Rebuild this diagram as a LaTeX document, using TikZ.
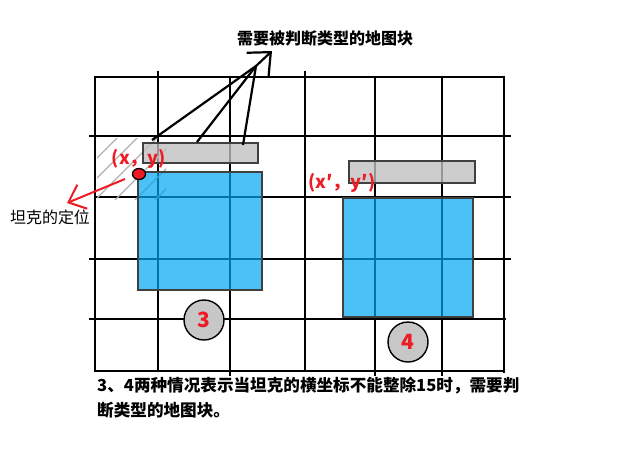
\documentclass[tikz,border=0pt]{standalone}
\usepackage{fontspec}
\usetikzlibrary{arrows.meta,shapes.geometric}
\newfontfamily\cjk{Noto Sans CJK SC}
\definecolor{tankblue}{RGB}{0,166,241}
\definecolor{markred}{RGB}{237,28,36}
\definecolor{edgegray}{RGB}{64,64,64}
\definecolor{hatchgray}{RGB}{176,176,176}

\begin{document}
\begin{tikzpicture}[x=1pt,y=-1pt,
  gridline/.style={line width=2.8pt, line cap=rect},
  hatchline/.style={hatchgray, line width=1.4pt},
  tilebar/.style={rectangle, draw=edgegray, line width=1.6pt, fill=black!25, fill opacity=0.78, inner sep=0pt},
  tankbox/.style={rectangle, draw=edgegray, line width=1.6pt, fill=tankblue, fill opacity=0.7, inner sep=0pt},
  casemark/.style={circle, draw, line width=1.4pt, fill=black!22, minimum size=40pt, inner sep=0pt,
    text=markred, font=\cjk\bfseries\fontsize{21}{21}\selectfont},
  redlabel/.style={text=markred, font=\cjk\bfseries\fontsize{18}{18}\selectfont, inner sep=0pt},
  pointer/.style={line width=2.2pt},
  redpointer/.style={markred, line width=2pt, -{Straight Barb[length=15pt,width=26pt]}}]
  \useasboundingbox (0,0) rectangle (619,456);
  \foreach \x/\ya/\yb in {95/77/371, 158/72/371, 230/77/375, 305/72/371, 375/77/375, 442/77/375, 504/77/372}
    \draw[gridline] (\x,\ya) -- (\x,\yb);
  \foreach \y/\xa/\xb in {77/95/504, 136/90/510, 197/95/510, 259/90/510, 319/90/505, 371/95/504}
    \draw[gridline] (\xa,\y) -- (\xb,\y);
  \begin{scope}
    \clip (97,138) rectangle (166,199);
    \foreach \c in {235,255,...,355}
      \draw[hatchline] (\c-200,200) -- (\c-130,130);
  \end{scope}
  \node[tilebar, minimum width=115pt, minimum height=20pt] (bar3) at (200.5,153) {};
  \node[tilebar, minimum width=126pt, minimum height=22pt] (bar4) at (412,172) {};
  \node[tankbox, minimum width=124pt, minimum height=118pt] (tank3) at (200,231) {};
  \node[tankbox, minimum width=130pt, minimum height=119pt] (tank4) at (408,257.5) {};
  \node[casemark] (case3) at (204,320) {3};
  \node[casemark] (case4) at (408,342) {4};
  \node[ellipse, draw, line width=1.3pt, fill=markred, minimum width=13pt, minimum height=11pt, inner sep=0pt] (spot) at (139,174) {};
  \node[redlabel] (xy) at (139,159) {(x，y)};
  \node[redlabel] (xy2) at (342,183) {(x′，y′)};
  \node[font=\cjk\bfseries\fontsize{16}{16}\selectfont] (question) at (325,38) {需要被判断类型的地图块};
  \node[font=\cjk\fontsize{16}{16}\selectfont] (locate) at (50,217) {坦克的定位};
  \node[anchor=north west, align=left, inner sep=0pt, font=\cjk\bfseries\fontsize{16.6}{25}\selectfont] (note) at (97,377)
    {3、4两种情况表示当坦克的横坐标不能整除15时，需要判\\断类型的地图块。};
  \coordinate (p1) at (152,140);
  \coordinate (p2) at (197,142);
  \coordinate (p3) at (243,145);
  \coordinate (meet) at (256,66);
  \coordinate (aim) at (272,51);
  \foreach \p in {p1,p2,p3}
    \draw[pointer] (\p) -- (meet);
  \draw[pointer, -{Straight Barb[length=18pt,width=32pt]}] (meet) -- (aim);
  \coordinate (spotleft) at (125,179);
  \coordinate (locatetip) at (67,203);
  \draw[redpointer] (spotleft) -- (locatetip);
\end{tikzpicture}
\end{document}
